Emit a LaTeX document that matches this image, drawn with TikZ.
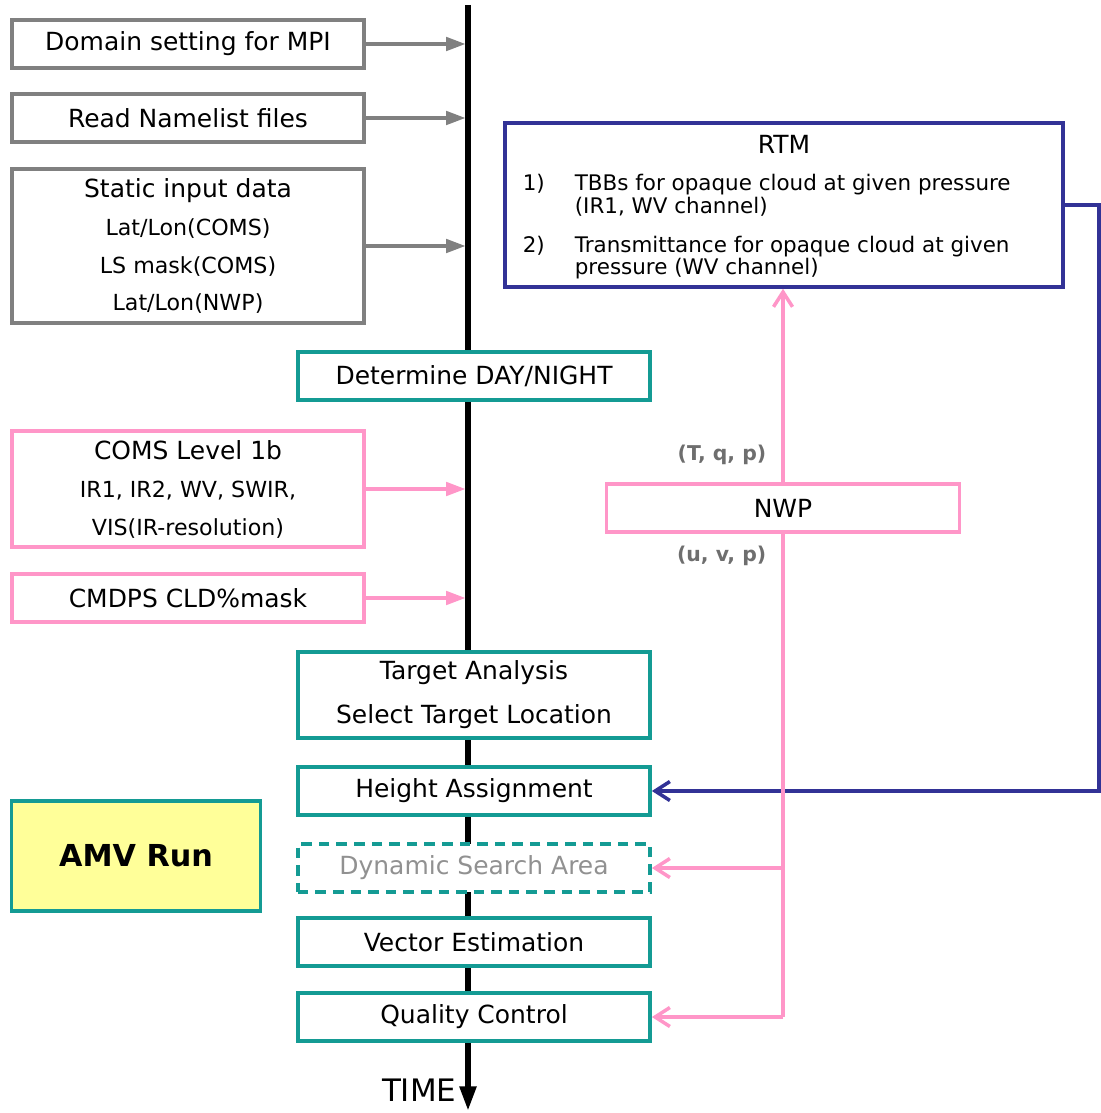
\documentclass[tikz,border=0pt]{standalone}
\usepackage{fontspec}
\setmainfont{DejaVu Sans}
\usetikzlibrary{arrows.meta,positioning}

\definecolor{boxgray}{RGB}{128,128,128}
\definecolor{boxpink}{RGB}{255,150,200}
\definecolor{boxteal}{RGB}{20,155,148}
\definecolor{boxnavy}{RGB}{50,50,150}
\definecolor{amvyellow}{RGB}{255,255,153}
\definecolor{labelgray}{RGB}{110,110,110}
\definecolor{dimtext}{RGB}{145,145,145}

\newcommand\mainsize{\fontsize{7.1pt}{10.8pt}\selectfont}
\newcommand\subsize{\fontsize{6.3pt}{10.8pt}\selectfont}
\newcommand\listsize{\fontsize{6.1pt}{6.5pt}\selectfont}

\begin{document}
\begin{tikzpicture}[x=0.01cm, y=-0.01cm,
  base/.style={draw, line width=1pt, fill=white, inner sep=0pt, align=center,
    minimum width=3.52cm, minimum height=0.48cm, font=\mainsize},
  graybox/.style={base, draw=boxgray},
  pinkbox/.style={base, draw=boxpink},
  tealbox/.style={base, draw=boxteal},
  navybox/.style={base, draw=boxnavy},
  grayline/.style={draw=boxgray, line width=1pt, -{Triangle[length=5.5pt,width=3.8pt]}, shorten >=0.7pt},
  pinkline/.style={draw=boxpink, line width=1pt, -{Triangle[length=5.5pt,width=3.8pt]}, shorten >=0.7pt},
  feed/.style={line width=1pt, -{Straight Barb[length=4.2pt,width=5.4pt]}},
  datalabel/.style={font=\fontsize{5.8pt}{7pt}\selectfont\bfseries, text=labelgray, inner sep=0pt}]
  \useasboundingbox (0,0) rectangle (1100,1113);

  % time axis
  \coordinate (tstart) at (468,5);
  \coordinate (tend) at (468,1111);
  \draw[line width=1.6pt, -{Triangle[length=7pt,width=4.5pt]}] (tstart) -- (tend);
  \node (time) [anchor=east, inner sep=0pt, font=\fontsize{8.8pt}{10pt}\selectfont] at (457,1090) {TIME};

  % inputs
  \node (dom) [graybox] at (188,44) {Domain setting for MPI};
  \node (nml) [graybox] at (188,118) {Read Namelist files};
  \node (stat) [graybox, minimum height=1.54cm] at (188,246)
    {Static input data\\{\subsize Lat/Lon(COMS)}\\{\subsize LS mask(COMS)}\\{\subsize Lat/Lon(NWP)}};
  \node (coms) [pinkbox, minimum height=1.16cm] at (188,489)
    {COMS Level 1b\\{\subsize IR1, IR2, WV, SWIR,}\\{\subsize VIS(IR-resolution)}};
  \node (cld) [pinkbox] at (188,598) {CMDPS CLD\%mask};

  % processing steps
  \node (day) [tealbox] at (474,376) {Determine DAY/NIGHT};
  \node (target) [tealbox, minimum height=0.86cm] at (474,695) {Target Analysis\\[1.7pt]Select Target Location};
  \node (height) [tealbox] at (474,791) {Height Assignment};
  \node (dyn) [tealbox, dash pattern=on 3pt off 2pt, text=dimtext] at (474,868) {Dynamic Search Area};
  \node (vec) [tealbox] at (474,942) {Vector Estimation};
  \node (qc) [tealbox] at (474,1017) {Quality Control};
  \node (amv) [tealbox, fill=amvyellow, minimum width=2.49cm, minimum height=1.1cm,
    font=\fontsize{8.6pt}{10pt}\selectfont\bfseries] at (136,856) {AMV Run};

  % RTM and NWP
  \node (rtm) [navybox, minimum width=5.58cm, minimum height=1.64cm] at (784,205) {};
  \node (rtmtitle) [below=0.13cm of rtm.north, inner sep=0pt, font=\mainsize] {RTM};
  \node (rtmnum) [below right=0.52cm and 0.19cm of rtm.north west, inner sep=0pt, align=left, font=\listsize]
    {1)\\[11.1pt]2)};
  \node (rtmtxt) [below right=0cm and 0.52cm of rtmnum.north west, inner sep=0pt, align=left, font=\listsize]
    {TBBs for opaque cloud at given pressure\\(IR1, WV channel)\\[4.6pt]Transmittance for opaque cloud at given\\pressure (WV channel)};
  \node (nwp) [pinkbox, minimum width=3.53cm] at (783,508) {NWP};

  \draw[grayline] (dom) -- (dom -| tstart);
  \draw[grayline] (nml) -- (nml -| tstart);
  \draw[grayline] (stat) -- (stat -| tstart);
  \draw[pinkline] (coms) -- (coms -| tstart);
  \draw[pinkline] (cld) -- (cld -| tstart);

  \draw[feed, draw=boxnavy] (rtm.east) -- ++(34,0) |- (height.east);
  \draw[feed, draw=boxpink] (nwp.north) -- node[datalabel, pos=0.14, left=0.15cm] (tqp) {(T, q, p)} (nwp.north |- rtm.south);
  \draw[draw=boxpink, line width=1pt] (nwp.south) -- node[datalabel, pos=0.046, left=0.15cm] (uvp) {(u, v, p)} (nwp.south |- qc.east);
  \draw[feed, draw=boxpink] (nwp.south |- dyn.east) -- (dyn.east);
  \draw[feed, draw=boxpink] (nwp.south |- qc.east) -- (qc.east);
\end{tikzpicture}
\end{document}
